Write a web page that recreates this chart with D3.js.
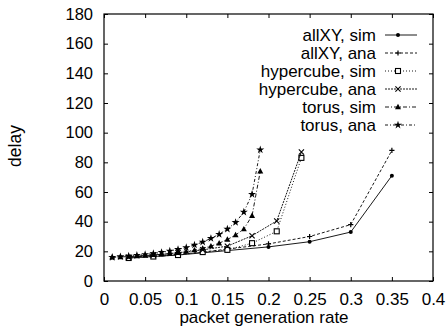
<!DOCTYPE html>
<html>
<head>
<meta charset="utf-8">
<script src="https://cdn.jsdelivr.net/npm/d3@7"></script>
<style>
  body { margin: 0; background: #fff; }
  text { font-family: "Liberation Sans", Arial, sans-serif; fill: #000; }
</style>
</head>
<body>
<div id="chart"></div>
<script>
(function () {

  // data
  var allxyRate = [0.03, 0.06, 0.09, 0.12, 0.15, 0.2, 0.25, 0.3, 0.35];
  var allxySim = [15.5, 16.5, 17.5, 19, 20.5, 23, 26.5, 33, 71];
  var allxyAna = [16, 17, 18, 19.5, 21.5, 25, 30, 38, 88];

  var hyperRate = [0.03, 0.06, 0.09, 0.12, 0.15, 0.18, 0.21, 0.24];
  var hyperSim = [15.5, 16.5, 17.5, 19.5, 21, 25.5, 33.5, 83];
  var hyperAna = [16, 17.5, 19, 21, 23.5, 30.5, 40.5, 87];

  var torusRate = [0.01, 0.02, 0.03, 0.04, 0.05, 0.06, 0.07, 0.08, 0.09, 0.1,
                   0.11, 0.12, 0.13, 0.14, 0.15, 0.16, 0.17, 0.18, 0.19];
  var torusSim = [16, 16.2, 16.5, 16.8, 17.2, 17.6, 18, 18.5, 19, 19.8,
                  20.8, 22, 23.5, 25.5, 28, 31, 35, 44, 74];
  var torusAna = [16, 16.4, 16.8, 17.3, 17.9, 18.5, 19.3, 20.2, 21.3, 22.6,
                  24.3, 26.3, 28.7, 31.5, 35, 39.5, 46.5, 58.5, 88.5];

  var seriesNames = ["allXY, sim", "allXY, ana", "hypercube, sim", "hypercube, ana", "torus, sim", "torus, ana"];
  var xTicks = [0, 0.05, 0.1, 0.15, 0.2, 0.25, 0.3, 0.35, 0.4];
  var xTickLabels = ["0", "0.05", "0.1", "0.15", "0.2", "0.25", "0.3", "0.35", "0.4"];
  var yTicks = [0, 20, 40, 60, 80, 100, 120, 140, 160, 180];

  var series = [
    { name: seriesNames[0], x: allxyRate, y: allxySim, dash: null, marker: "diamond" },
    { name: seriesNames[1], x: allxyRate, y: allxyAna, dash: "3,2", marker: "plus" },
    { name: seriesNames[2], x: hyperRate, y: hyperSim, dash: "1,2", marker: "square" },
    { name: seriesNames[3], x: hyperRate, y: hyperAna, dash: "2,1", marker: "cross" },
    { name: seriesNames[4], x: torusRate, y: torusSim, dash: "4,2,1,2", marker: "triangle" },
    { name: seriesNames[5], x: torusRate, y: torusAna, dash: "3,2,1,2", marker: "star" }
  ];

  var w = 446;
  var h = 326;
  var margin = { top: 14, bottom: 45, left: 104, right: 13 };
  var width = w - margin.left - margin.right;
  var height = h - margin.top - margin.bottom;

  var xScale = d3.scaleLinear().domain([0, 0.4]).range([0, width]);
  var yScale = d3.scaleLinear().domain([0, 180]).range([height, 0]);

  var svg = d3.select("#chart")
    .append("svg")
    .attr("width", w)
    .attr("height", h);

  var chart = svg.append("g")
    .attr("transform", "translate(" + margin.left + "," + margin.top + ")");

  // axes with inward ticks, mirrored like gnuplot
  var xAxis = d3.axisBottom(xScale)
    .tickValues(xTicks)
    .tickFormat(function (d, i) { return xTickLabels[i]; })
    .tickSizeInner(-4)
    .tickSizeOuter(0)
    .tickPadding(12);

  var yAxis = d3.axisLeft(yScale)
    .tickValues(yTicks)
    .tickSizeInner(-4)
    .tickSizeOuter(0)
    .tickPadding(11);

  var gx = chart.append("g")
    .attr("transform", "translate(0," + height + ")")
    .call(xAxis);
  var gy = chart.append("g").call(yAxis);

  chart.append("g")
    .call(d3.axisTop(xScale).tickValues(xTicks).tickFormat("").tickSizeInner(-4).tickSizeOuter(0));
  chart.append("g")
    .attr("transform", "translate(" + width + ",0)")
    .call(d3.axisRight(yScale).tickValues(yTicks).tickFormat("").tickSizeInner(-4).tickSizeOuter(0));

  chart.selectAll(".domain").remove();
  chart.selectAll(".tick line").attr("stroke", "#000");
  gx.selectAll("text").style("font-size", "17px");
  gy.selectAll("text").style("font-size", "16.5px");

  chart.append("rect")
    .attr("width", width)
    .attr("height", height)
    .attr("fill", "none")
    .attr("stroke", "#000")
    .attr("stroke-width", 1.2);

  svg.append("text")
    .attr("x", 264)
    .attr("y", 323)
    .attr("text-anchor", "middle")
    .style("font-size", "17px")
    .text("packet generation rate");

  svg.append("text")
    .attr("transform", "translate(21,146) rotate(-90)")
    .attr("text-anchor", "middle")
    .style("font-size", "17.5px")
    .text("delay");

  function marker(g, type, cx, cy) {
    var s = 2.6;
    if (type == "diamond") {
      g.append("circle").attr("cx", cx).attr("cy", cy).attr("r", 2).attr("fill", "#000");
    } else if (type == "plus") {
      g.append("path").attr("d", "M" + (cx - s) + " " + cy + "H" + (cx + s) + "M" + cx + " " + (cy - s) + "V" + (cy + s))
        .attr("stroke", "#000").attr("stroke-width", 1.2);
    } else if (type == "square") {
      g.append("rect").attr("x", cx - 2.5).attr("y", cy - 2.5).attr("width", 5).attr("height", 5)
        .attr("fill", "#fff").attr("stroke", "#000").attr("stroke-width", 1.1);
    } else if (type == "cross") {
      g.append("path").attr("d", "M" + (cx - s) + " " + (cy - s) + "L" + (cx + s) + " " + (cy + s) + "M" + (cx - s) + " " + (cy + s) + "L" + (cx + s) + " " + (cy - s))
        .attr("stroke", "#000").attr("stroke-width", 1.1);
    } else if (type == "triangle") {
      g.append("path").attr("d", "M" + cx + " " + (cy - 3.2) + "L" + (cx + 3) + " " + (cy + 2.2) + "L" + (cx - 3) + " " + (cy + 2.2) + "Z")
        .attr("fill", "#000");
    } else if (type == "star") {
      g.append("path").attr("d", d3.symbol().type(d3.symbolStar).size(20)())
        .attr("transform", "translate(" + cx + "," + cy + ")")
        .attr("fill", "#000");
    }
  }

  var line = d3.line()
    .x(function (d) { return xScale(d[0]); })
    .y(function (d) { return yScale(d[1]); });

  series.forEach(function (s) {
    var pts = s.x.map(function (x, i) { return [x, s.y[i]]; });
    var g = chart.append("g");
    g.append("path")
      .datum(pts)
      .attr("d", line)
      .attr("fill", "none")
      .attr("stroke", "#000")
      .attr("stroke-width", 0.9)
      .attr("stroke-dasharray", s.dash);
    pts.forEach(function (p) {
      marker(g, s.marker, xScale(p[0]), yScale(p[1]));
    });
  });

  // legend
  var legend = svg.append("g");
  series.forEach(function (s, i) {
    var ly = 35 + i * 18;
    legend.append("text")
      .attr("x", 376)
      .attr("y", ly + 6)
      .attr("text-anchor", "end")
      .style("font-size", "17px")
      .text(s.name);
    legend.append("line")
      .attr("x1", 385)
      .attr("x2", 417)
      .attr("y1", ly)
      .attr("y2", ly)
      .attr("stroke", "#000")
      .attr("stroke-width", 0.9)
      .attr("stroke-dasharray", s.dash);
    marker(legend, s.marker, 398, ly);
  });

})();
</script>
</body>
</html>
